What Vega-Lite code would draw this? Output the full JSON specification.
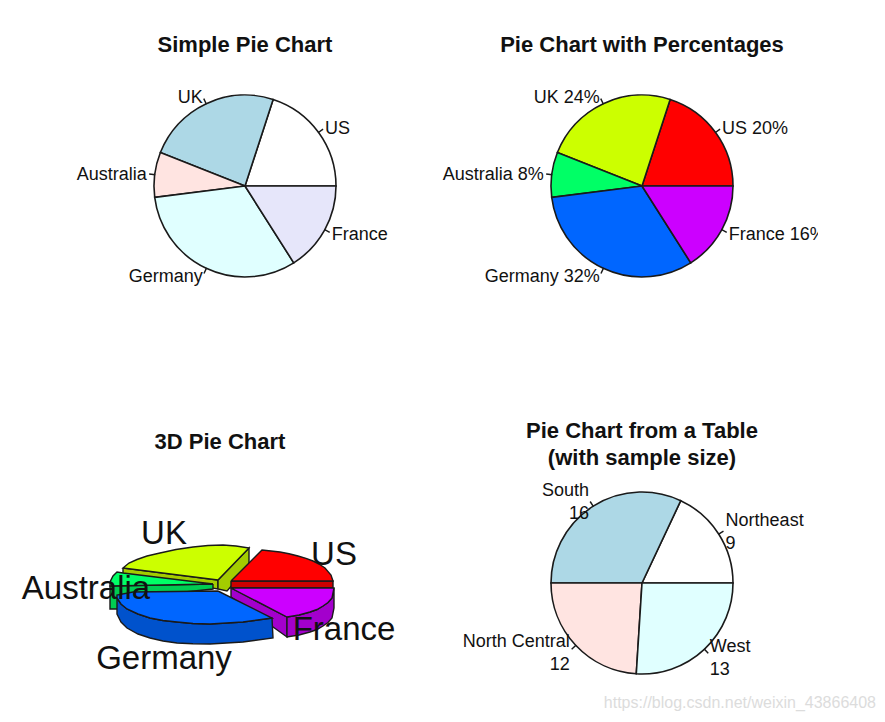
{
"$schema":"https://vega.github.io/schema/vega-lite/v6.json",
"background":"white",
"padding":{"left":21,"top":33,"right":5,"bottom":5},
"columns":2,
"bounds":"flush",
"spacing":{"column":97,"row":197},
"resolve":{"scale":{"color":"independent","theta":"independent","fill":"independent"}},
"config":{"view":{"stroke":null},"text":{"font":"Liberation Sans"},"title":{"font":"Liberation Sans","fontWeight":"bold","fontSize":22,"color":"#111111","lineHeight":27}},
"datasets":{
"simple":[{"label":"US","value":10,"idx":1,"mid":5,"mid2":5.02},{"label":"UK","value":12,"idx":2,"mid":16,"mid2":16.02},{"label":"Australia","value":4,"idx":3,"mid":24,"mid2":24.02},{"label":"Germany","value":16,"idx":4,"mid":34,"mid2":34.02},{"label":"France","value":8,"idx":5,"mid":46,"mid2":46.02}],
"pct":[{"label":"US 20%","value":10,"idx":1,"mid":5,"mid2":5.02},{"label":"UK 24%","value":12,"idx":2,"mid":16,"mid2":16.02},{"label":"Australia 8%","value":4,"idx":3,"mid":24,"mid2":24.02},{"label":"Germany 32%","value":16,"idx":4,"mid":34,"mid2":34.02},{"label":"France 16%","value":8,"idx":5,"mid":46,"mid2":46.02}],
"table":[{"label":"Northeast\n9","value":9,"idx":1,"mid":4.5,"mid2":4.52},{"label":"South\n16","value":16,"idx":2,"mid":17,"mid2":17.02},{"label":"North Central\n12","value":12,"idx":3,"mid":31,"mid2":31.02},{"label":"West\n13","value":13,"idx":4,"mid":43.5,"mid2":43.52}],
"poly":[
{"p":"a_ys1","c":"UK side","o":1,"x":123,"y":567},{"p":"a_ys1","c":"UK side","o":2,"x":218,"y":579},{"p":"a_ys1","c":"UK side","o":3,"x":218,"y":588},{"p":"a_ys1","c":"UK side","o":4,"x":123,"y":573},{"p":"a_ys1","c":"UK side","o":5,"x":123,"y":567},
{"p":"b_ys2","c":"UK side","o":1,"x":218,"y":579},{"p":"b_ys2","c":"UK side","o":2,"x":249,"y":547},{"p":"b_ys2","c":"UK side","o":3,"x":249,"y":565},{"p":"b_ys2","c":"UK side","o":4,"x":227,"y":590},{"p":"b_ys2","c":"UK side","o":5,"x":218,"y":588},{"p":"b_ys2","c":"UK side","o":6,"x":218,"y":579},
{"p":"c_yt","c":"UK","o":1,"x":218,"y":579},{"p":"c_yt","c":"UK","o":2,"x":249,"y":547},{"p":"c_yt","c":"UK","o":3,"x":236,"y":545},{"p":"c_yt","c":"UK","o":4,"x":223,"y":544},{"p":"c_yt","c":"UK","o":5,"x":208,"y":544.5},{"p":"c_yt","c":"UK","o":6,"x":193,"y":546},{"p":"c_yt","c":"UK","o":7,"x":176,"y":548.5},{"p":"c_yt","c":"UK","o":8,"x":160,"y":552},{"p":"c_yt","c":"UK","o":9,"x":147,"y":555},{"p":"c_yt","c":"UK","o":10,"x":137,"y":558.5},{"p":"c_yt","c":"UK","o":11,"x":129,"y":562},{"p":"c_yt","c":"UK","o":12,"x":123,"y":567},{"p":"c_yt","c":"UK","o":13,"x":218,"y":579},
{"p":"d_gs","c":"Australia side","o":1,"x":213,"y":583},{"p":"d_gs","c":"Australia side","o":2,"x":110,"y":585},{"p":"d_gs","c":"Australia side","o":3,"x":110,"y":608},{"p":"d_gs","c":"Australia side","o":4,"x":120,"y":608},{"p":"d_gs","c":"Australia side","o":5,"x":120,"y":598},{"p":"d_gs","c":"Australia side","o":6,"x":213,"y":588},{"p":"d_gs","c":"Australia side","o":7,"x":213,"y":583},
{"p":"e_gt","c":"Australia","o":1,"x":213,"y":583},{"p":"e_gt","c":"Australia","o":2,"x":123,"y":572},{"p":"e_gt","c":"Australia","o":3,"x":117,"y":571},{"p":"e_gt","c":"Australia","o":4,"x":113,"y":575},{"p":"e_gt","c":"Australia","o":5,"x":110,"y":581},{"p":"e_gt","c":"Australia","o":6,"x":110,"y":585},{"p":"e_gt","c":"Australia","o":7,"x":213,"y":583},
{"p":"f_rs","c":"US side","o":1,"x":231,"y":580},{"p":"f_rs","c":"US side","o":2,"x":333,"y":580},{"p":"f_rs","c":"US side","o":3,"x":333,"y":587},{"p":"f_rs","c":"US side","o":4,"x":231,"y":587},{"p":"f_rs","c":"US side","o":5,"x":231,"y":580},
{"p":"g_rt","c":"US","o":1,"x":231,"y":580},{"p":"g_rt","c":"US","o":2,"x":262,"y":549},{"p":"g_rt","c":"US","o":3,"x":271,"y":550},{"p":"g_rt","c":"US","o":4,"x":280,"y":551},{"p":"g_rt","c":"US","o":5,"x":289,"y":552.8},{"p":"g_rt","c":"US","o":6,"x":298,"y":555},{"p":"g_rt","c":"US","o":7,"x":306,"y":557.3},{"p":"g_rt","c":"US","o":8,"x":313,"y":560},{"p":"g_rt","c":"US","o":9,"x":319,"y":563},{"p":"g_rt","c":"US","o":10,"x":325,"y":567},{"p":"g_rt","c":"US","o":11,"x":331,"y":574},{"p":"g_rt","c":"US","o":12,"x":333,"y":580},{"p":"g_rt","c":"US","o":13,"x":231,"y":580},
{"p":"h_ps1","c":"France side","o":1,"x":231,"y":587},{"p":"h_ps1","c":"France side","o":2,"x":287,"y":616},{"p":"h_ps1","c":"France side","o":3,"x":287,"y":636},{"p":"h_ps1","c":"France side","o":4,"x":231,"y":596},{"p":"h_ps1","c":"France side","o":5,"x":231,"y":587},
{"p":"i_ps2","c":"France side","o":1,"x":287,"y":616},{"p":"i_ps2","c":"France side","o":2,"x":299,"y":614},{"p":"i_ps2","c":"France side","o":3,"x":310,"y":611},{"p":"i_ps2","c":"France side","o":4,"x":317,"y":608.5},{"p":"i_ps2","c":"France side","o":5,"x":323,"y":605},{"p":"i_ps2","c":"France side","o":6,"x":328,"y":601.5},{"p":"i_ps2","c":"France side","o":7,"x":332,"y":597},{"p":"i_ps2","c":"France side","o":8,"x":334,"y":587},{"p":"i_ps2","c":"France side","o":9,"x":334,"y":607},{"p":"i_ps2","c":"France side","o":10,"x":332,"y":617},{"p":"i_ps2","c":"France side","o":11,"x":328,"y":621.5},{"p":"i_ps2","c":"France side","o":12,"x":323,"y":625},{"p":"i_ps2","c":"France side","o":13,"x":317,"y":628.5},{"p":"i_ps2","c":"France side","o":14,"x":310,"y":631},{"p":"i_ps2","c":"France side","o":15,"x":299,"y":634},{"p":"i_ps2","c":"France side","o":16,"x":287,"y":636},{"p":"i_ps2","c":"France side","o":17,"x":287,"y":616},
{"p":"j_pt","c":"France","o":1,"x":231,"y":587},{"p":"j_pt","c":"France","o":2,"x":334,"y":587},{"p":"j_pt","c":"France","o":3,"x":332,"y":597},{"p":"j_pt","c":"France","o":4,"x":328,"y":601.5},{"p":"j_pt","c":"France","o":5,"x":323,"y":605},{"p":"j_pt","c":"France","o":6,"x":317,"y":608.5},{"p":"j_pt","c":"France","o":7,"x":310,"y":611},{"p":"j_pt","c":"France","o":8,"x":299,"y":614},{"p":"j_pt","c":"France","o":9,"x":287,"y":616},{"p":"j_pt","c":"France","o":10,"x":231,"y":587},
{"p":"k_bs","c":"Germany side","o":1,"x":117,"y":597},{"p":"k_bs","c":"Germany side","o":2,"x":121,"y":603},{"p":"k_bs","c":"Germany side","o":3,"x":127,"y":608},{"p":"k_bs","c":"Germany side","o":4,"x":138,"y":613},{"p":"k_bs","c":"Germany side","o":5,"x":150,"y":617},{"p":"k_bs","c":"Germany side","o":6,"x":163,"y":619.5},{"p":"k_bs","c":"Germany side","o":7,"x":177,"y":621},{"p":"k_bs","c":"Germany side","o":8,"x":193,"y":622.5},{"p":"k_bs","c":"Germany side","o":9,"x":210,"y":623},{"p":"k_bs","c":"Germany side","o":10,"x":243,"y":621},{"p":"k_bs","c":"Germany side","o":11,"x":272,"y":617},{"p":"k_bs","c":"Germany side","o":12,"x":273,"y":637},{"p":"k_bs","c":"Germany side","o":13,"x":243,"y":641},{"p":"k_bs","c":"Germany side","o":14,"x":210,"y":643},{"p":"k_bs","c":"Germany side","o":15,"x":193,"y":642.7},{"p":"k_bs","c":"Germany side","o":16,"x":177,"y":642},{"p":"k_bs","c":"Germany side","o":17,"x":163,"y":640},{"p":"k_bs","c":"Germany side","o":18,"x":150,"y":637},{"p":"k_bs","c":"Germany side","o":19,"x":138,"y":633},{"p":"k_bs","c":"Germany side","o":20,"x":127,"y":627},{"p":"k_bs","c":"Germany side","o":21,"x":121,"y":621},{"p":"k_bs","c":"Germany side","o":22,"x":117,"y":613},{"p":"k_bs","c":"Germany side","o":23,"x":117,"y":597},
{"p":"l_bt","c":"Germany","o":1,"x":218,"y":590},{"p":"l_bt","c":"Germany","o":2,"x":133,"y":591},{"p":"l_bt","c":"Germany","o":3,"x":117,"y":594},{"p":"l_bt","c":"Germany","o":4,"x":117,"y":597},{"p":"l_bt","c":"Germany","o":5,"x":121,"y":603},{"p":"l_bt","c":"Germany","o":6,"x":127,"y":608},{"p":"l_bt","c":"Germany","o":7,"x":138,"y":613},{"p":"l_bt","c":"Germany","o":8,"x":150,"y":617},{"p":"l_bt","c":"Germany","o":9,"x":163,"y":619.5},{"p":"l_bt","c":"Germany","o":10,"x":177,"y":621},{"p":"l_bt","c":"Germany","o":11,"x":193,"y":622.5},{"p":"l_bt","c":"Germany","o":12,"x":210,"y":623},{"p":"l_bt","c":"Germany","o":13,"x":243,"y":621},{"p":"l_bt","c":"Germany","o":14,"x":272,"y":617},{"p":"l_bt","c":"Germany","o":15,"x":218,"y":590}
],
"lab3d":[{"label":"US","x":334,"y":554},{"label":"UK","x":164,"y":533},{"label":"Australia","x":86,"y":588},{"label":"France","x":344,"y":629},{"label":"Germany","x":164,"y":658}]
},
"concat":[
{"title":{"text":"Simple Pie Chart","offset":29.5},"width":300,"height":200,"data":{"name":"simple"},
"encoding":{"theta":{"field":"value","type":"quantitative","stack":true,"scale":{"domain":[0,50],"range":[1.5708,-4.7124]}}},
"layer":[
{"mark":{"type":"arc","outerRadius":91,"stroke":"#1a1a1a","strokeWidth":1.6},"encoding":{"order":{"field":"idx"},"color":{"field":"label","type":"nominal","legend":null,"scale":{"domain":["US","UK","Australia","Germany","France"],"range":["#FFFFFF","#ADD8E6","#FFE4E1","#E0FFFF","#E6E6FA"]}}}},
{"mark":{"type":"arc","radius":96,"radius2":91,"stroke":"#1a1a1a","strokeWidth":1.2},"encoding":{"theta":{"field":"mid","type":"quantitative","stack":null},"theta2":{"field":"mid2"}}},
{"transform":[{"filter":"abs(datum.mid-25)>12.5"}],"mark":{"type":"text","radius":99,"align":"left","baseline":"middle","dy":1.5,"fontSize":18,"color":"#111111"},"encoding":{"theta":{"field":"mid","type":"quantitative","stack":null},"text":{"field":"label"}}},
{"transform":[{"filter":"abs(datum.mid-25)<=12.5"}],"mark":{"type":"text","radius":99,"align":"right","baseline":"middle","dy":1.5,"fontSize":18,"color":"#111111"},"encoding":{"theta":{"field":"mid","type":"quantitative","stack":null},"text":{"field":"label"}}}
]},
{"title":{"text":"Pie Chart with Percentages","offset":29.5},"width":300,"height":200,"data":{"name":"pct"},
"encoding":{"theta":{"field":"value","type":"quantitative","stack":true,"scale":{"domain":[0,50],"range":[1.5708,-4.7124]}}},
"layer":[
{"mark":{"type":"arc","outerRadius":91,"stroke":"#1a1a1a","strokeWidth":1.6},"encoding":{"order":{"field":"idx"},"color":{"field":"label","type":"nominal","legend":null,"scale":{"domain":["US 20%","UK 24%","Australia 8%","Germany 32%","France 16%"],"range":["#FF0000","#CCFF00","#00FF66","#0066FF","#CC00FF"]}}}},
{"mark":{"type":"arc","radius":96,"radius2":91,"stroke":"#1a1a1a","strokeWidth":1.2},"encoding":{"theta":{"field":"mid","type":"quantitative","stack":null},"theta2":{"field":"mid2"}}},
{"transform":[{"filter":"abs(datum.mid-25)>12.5"}],"mark":{"type":"text","radius":99,"align":"left","baseline":"middle","dy":1.5,"fontSize":18,"color":"#111111"},"encoding":{"theta":{"field":"mid","type":"quantitative","stack":null},"text":{"field":"label"}}},
{"transform":[{"filter":"abs(datum.mid-25)<=12.5"}],"mark":{"type":"text","radius":99,"align":"right","baseline":"middle","dy":1.5,"fontSize":18,"color":"#111111"},"encoding":{"theta":{"field":"mid","type":"quantitative","stack":null},"text":{"field":"label"}}},
{"data":{"values":[{"mask":1}]},"mark":{"type":"rect","x":326,"x2":342,"y":136,"y2":160,"fill":"white"},"encoding":{"theta":null}}
]},
{"title":{"text":"3D Pie Chart","offset":29.5,"dx":-25},"width":300,"height":200,
"layer":[
{"data":{"name":"poly"},"mark":{"type":"line","stroke":"#1a1a1a","strokeWidth":1.4,"interpolate":"linear"},"encoding":{
"x":{"field":"x","type":"quantitative","axis":null,"scale":{"domain":[95,395],"nice":false,"zero":false}},
"y":{"field":"y","type":"quantitative","axis":null,"scale":{"domain":[682,482],"nice":false,"zero":false}},
"detail":{"field":"p"},"order":{"field":"o"},
"fill":{"field":"c","type":"nominal","legend":null,"scale":{"domain":["US","UK","Australia","Germany","France","US side","UK side","Australia side","Germany side","France side"],"range":["#FF0000","#CCFF00","#00FF66","#0066FF","#CC00FF","#CC0000","#A3CC00","#00CC52","#0052CC","#A300CC"]}}}},
{"data":{"name":"lab3d"},"mark":{"type":"text","fontSize":33,"color":"#111111","align":"center","baseline":"middle"},"encoding":{
"x":{"field":"x","type":"quantitative"},"y":{"field":"y","type":"quantitative"},"text":{"field":"label"}}}
]},
{"title":{"text":["Pie Chart from a Table","(with sample size)"],"offset":11.5},"width":300,"height":200,"data":{"name":"table"},
"encoding":{"theta":{"field":"value","type":"quantitative","stack":true,"scale":{"domain":[0,50],"range":[1.5708,-4.7124]}}},
"layer":[
{"mark":{"type":"arc","outerRadius":91,"stroke":"#1a1a1a","strokeWidth":1.6},"encoding":{"order":{"field":"idx"},"color":{"field":"label","type":"nominal","legend":null,"scale":{"domain":["Northeast\n9","South\n16","North Central\n12","West\n13"],"range":["#FFFFFF","#ADD8E6","#FFE4E1","#E0FFFF"]}}}},
{"mark":{"type":"arc","radius":96,"radius2":91,"stroke":"#1a1a1a","strokeWidth":1.2},"encoding":{"theta":{"field":"mid","type":"quantitative","stack":null},"theta2":{"field":"mid2"}}},
{"transform":[{"filter":"abs(datum.mid-25)>12.5"}],"mark":{"type":"text","radius":99,"align":"left","baseline":"middle","dy":-8.5,"fontSize":18,"lineBreak":"\n","lineHeight":23,"color":"#111111"},"encoding":{"theta":{"field":"mid","type":"quantitative","stack":null},"text":{"field":"label"}}},
{"transform":[{"filter":"abs(datum.mid-25)<=12.5"}],"mark":{"type":"text","radius":99,"align":"right","baseline":"middle","dy":-8.5,"fontSize":18,"lineBreak":"\n","lineHeight":23,"color":"#111111"},"encoding":{"theta":{"field":"mid","type":"quantitative","stack":null},"text":{"field":"label"}}},
{"data":{"values":[{"t":"https://blog.csdn.net/weixin_43866408"}]},"mark":{"type":"text","x":384,"y":220,"align":"right","baseline":"middle","fontSize":16,"color":"#dcdcdc"},"encoding":{"theta":null,"text":{"field":"t"}}}
]}
]
}
